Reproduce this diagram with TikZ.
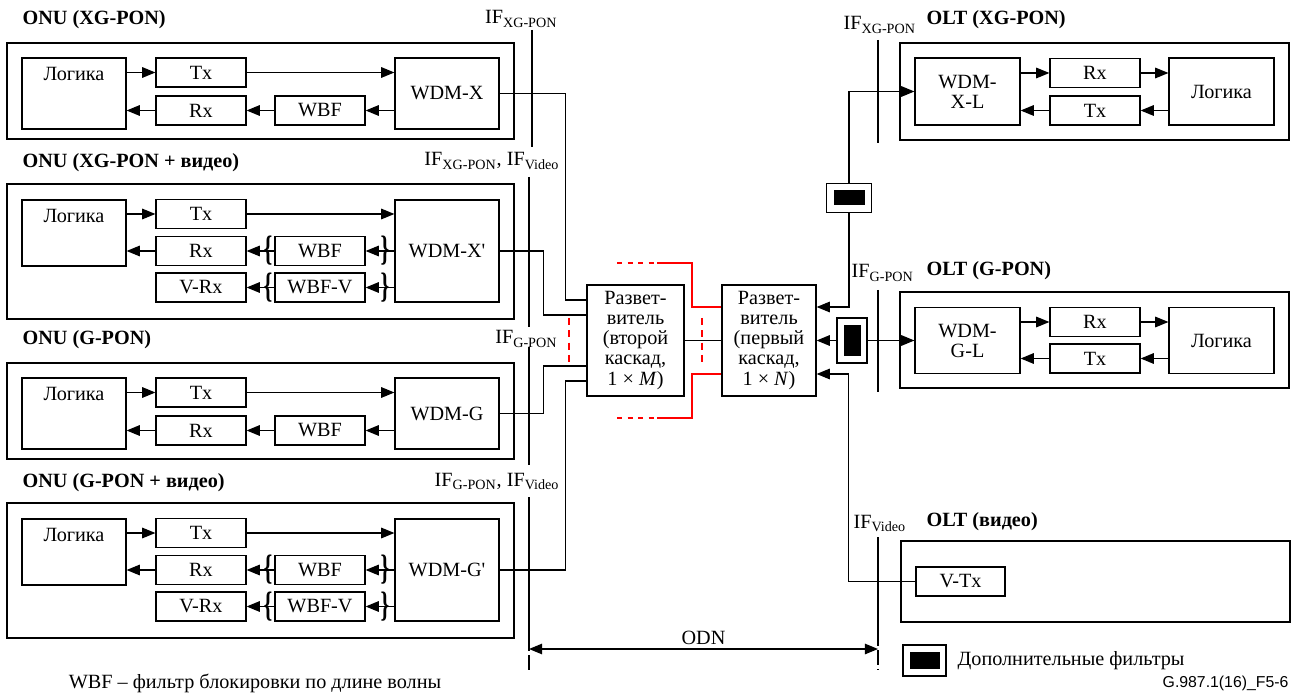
\documentclass[tikz,border=0pt]{standalone}
\usepackage{fontspec}
\setmainfont{Liberation Serif}
\newfontfamily\idfont{Liberation Sans}
\usepackage{graphicx}
\usepackage{tikz}
\usetikzlibrary{shapes,arrows.meta,positioning,calc}

\newcommand{\figfont}{\fontsize{11.5}{11.4}\selectfont}
\newcommand{\IFs}[1]{IF\textsubscript{#1}}
\newcommand{\lbr}{\scalebox{1.1}[1.75]{\bfseries\{}}
\newcommand{\rbr}{\scalebox{1.1}[1.75]{\bfseries\}}}

\tikzset{
  blk/.style={draw, rectangle, inner sep=1pt, align=center},
  sblk/.style={blk, minimum width=1.8cm, minimum height=0.58cm},
  wblk/.style={blk, minimum width=2.08cm},
  frm/.style={draw, rectangle, line width=0.85pt},
  ttl/.style={anchor=base west, inner sep=0pt, font=\figfont\bfseries},
  ifl/.style={inner sep=0pt},
  flt/.style={draw, fill=white},
  brc/.style={inner sep=0pt},
  odash/.style={dash pattern=on 8pt off 2.5pt},
  rdash/.style={red, dash pattern=on 4pt off 3pt},
}

\begin{document}
\begin{tikzpicture}[x=0.02cm, y=-0.02cm, font=\figfont, line width=0.7pt,
  >={Triangle[length=7.5pt,width=6pt]}]
  \useasboundingbox (0,0) rectangle (1293,695);

  % ONU (XG-PON)
  \node[ttl] (tonuA) at (22,25) {ONU (XG-PON)};
  \node[frm, minimum width=10.14cm, minimum height=1.92cm] (onuA) at (260.5,91) {};
  \node[wblk, minimum height=1.42cm, label={[anchor=north, yshift=-0.06cm]north:Логика}] (logA) at (74,93.5) {};
  \node[sblk] (txA) at (201,72.5) {Tx};
  \node[sblk] (rxA) at (201,110.5) {Rx};
  \node[sblk] (wbfA) at (320,110.5) {WBF};
  \node[wblk, minimum height=1.42cm] (wdmA) at (447,93.5) {WDM-X};
  \draw[->] (txA.west -| logA.east) -- (txA.west);
  \draw[->] (txA.east) -- (txA.east -| wdmA.west);
  \draw[->] (wbfA.east -| wdmA.west) -- (wbfA.east);
  \draw[->] (wbfA.west) -- (rxA.east);
  \draw[->] (rxA.west) -- (rxA.west -| logA.east);

  % ONU (XG-PON + video)
  \node[ttl] (tonuB) at (22,168) {ONU (XG-PON + видео)};
  \node[frm, minimum width=10.14cm, minimum height=2.7cm] (onuB) at (260.5,251.5) {};
  \node[wblk, minimum height=1.32cm, label={[anchor=north, yshift=-0.06cm]north:Логика}] (logB) at (74,233) {};
  \node[sblk] (txB) at (201,214) {Tx};
  \node[sblk] (rxB) at (201,251) {Rx};
  \node[sblk] (vrxB) at (201,287.5) {V-Rx};
  \node[sblk] (wbfB) at (320,251) {WBF};
  \node[sblk] (wbfvB) at (320,287.5) {WBF-V};
  \node[wblk, minimum height=2.04cm] (wdmB) at (447,251) {WDM-X\textquotesingle};
  \draw[->] (txB.west -| logB.east) -- (txB.west);
  \draw[->] (txB.east) -- (txB.east -| wdmB.west);
  \draw[->] (wbfB.east -| wdmB.west) -- (wbfB.east);
  \draw[->] (wbfB.west) -- (rxB.east);
  \draw[->] (rxB.west) -- (rxB.west -| logB.east);
  \draw[->] (wbfvB.east -| wdmB.west) -- (wbfvB.east);
  \draw[->] (wbfvB.west) -- (vrxB.east);
  \node[brc] (bB1) at (268,251) {\lbr};
  \node[brc] (bB2) at (268,287.5) {\lbr};
  \node[brc] (bB3) at (385,251) {\rbr};
  \node[brc] (bB4) at (385,287.5) {\rbr};

  % ONU (G-PON)
  \node[ttl] (tonuC) at (22,345) {ONU (G-PON)};
  \node[frm, minimum width=10.14cm, minimum height=1.92cm] (onuC) at (260.5,411) {};
  \node[wblk, minimum height=1.42cm, label={[anchor=north, yshift=-0.06cm]north:Логика}] (logC) at (74,413.5) {};
  \node[sblk] (txC) at (201,392.5) {Tx};
  \node[sblk] (rxC) at (201,430.5) {Rx};
  \node[sblk] (wbfC) at (320,430.5) {WBF};
  \node[wblk, minimum height=1.42cm] (wdmC) at (447,413.5) {WDM-G};
  \draw[->] (txC.west -| logC.east) -- (txC.west);
  \draw[->] (txC.east) -- (txC.east -| wdmC.west);
  \draw[->] (wbfC.east -| wdmC.west) -- (wbfC.east);
  \draw[->] (wbfC.west) -- (rxC.east);
  \draw[->] (rxC.west) -- (rxC.west -| logC.east);

  % ONU (G-PON + video)
  \node[ttl] (tonuD) at (22,487) {ONU (G-PON + видео)};
  \node[frm, minimum width=10.14cm, minimum height=2.7cm] (onuD) at (260.5,570.5) {};
  \node[wblk, minimum height=1.32cm, label={[anchor=north, yshift=-0.06cm]north:Логика}] (logD) at (74,552) {};
  \node[sblk] (txD) at (201,533) {Tx};
  \node[sblk] (rxD) at (201,570) {Rx};
  \node[sblk] (vrxD) at (201,606.5) {V-Rx};
  \node[sblk] (wbfD) at (320,570) {WBF};
  \node[sblk] (wbfvD) at (320,606.5) {WBF-V};
  \node[wblk, minimum height=2.04cm] (wdmD) at (447,570) {WDM-G\textquotesingle};
  \draw[->] (txD.west -| logD.east) -- (txD.west);
  \draw[->] (txD.east) -- (txD.east -| wdmD.west);
  \draw[->] (wbfD.east -| wdmD.west) -- (wbfD.east);
  \draw[->] (wbfD.west) -- (rxD.east);
  \draw[->] (rxD.west) -- (rxD.west -| logD.east);
  \draw[->] (wbfvD.east -| wdmD.west) -- (wbfvD.east);
  \draw[->] (wbfvD.west) -- (vrxD.east);
  \node[brc] (bD1) at (268,570) {\lbr};
  \node[brc] (bD2) at (268,606.5) {\lbr};
  \node[brc] (bD3) at (385,570) {\rbr};
  \node[brc] (bD4) at (385,606.5) {\rbr};

  % interfaces on the ONU side
  \node[ifl, anchor=base east] (ifA) at (558,24) {\IFs{XG-PON}};
  \draw (532,30) -- (532,147);
  \node[ifl, anchor=base east] (ifB) at (560,166) {\IFs{XG-PON}, \IFs{Video}};
  \draw (529,177) -- (529,327);
  \node[ifl, anchor=base east] (ifC) at (558,344) {\IFs{G-PON}};
  \draw (529,347) -- (529,465);
  \node[ifl, anchor=base east] (ifD) at (560,486) {\IFs{G-PON}, \IFs{Video}};
  \draw (529,497) -- (529,637);
  \draw[odash] (529,637) -- (529,673);

  % splitters
  \node[blk, minimum width=1.94cm, minimum height=2.22cm] (splB) at (635.5,340.5) {Развет-\\витель\\(второй\\каскад,\\1 × \textit{M})};
  \node[blk, minimum width=1.88cm, minimum height=2.22cm] (splA) at (769,340.5) {Развет-\\витель\\(первый\\каскад,\\1 × \textit{N})};
  \draw (splB.east) -- (splA.west);

  \draw (wdmA.east) -- ++(66,0) |- ([yshift=0.81cm]splB.west);
  \draw (wdmB.east) -- ++(44,0) |- ([yshift=0.51cm]splB.west);
  \draw (wdmC.east) -- ++(44,0) |- ([yshift=-0.51cm]splB.west);
  \draw (wdmD.east) -- ++(66,0) |- ([yshift=-0.81cm]splB.west);

  % further splitter ports (red)
  \coordinate (rtop) at (617,263);
  \coordinate (rbot) at (617,418);
  \draw[red, dashed] (rtop) -- ++(40,0) coordinate (rtopk);
  \draw[red] (rtopk) -- ++(35,0) |- ([yshift=0.67cm]splA.west);
  \draw[red, dashed] (rbot) -- ++(40,0) coordinate (rbotk);
  \draw[red] (rbotk) -- ++(35,0) |- ([yshift=-0.67cm]splA.west);
  \draw[rdash] (569,318) -- (569,362);
  \draw[rdash] (702,318) -- (702,362);

  % OLT (XG-PON)
  \node[ttl] (toltA) at (926,25) {OLT (XG-PON)};
  \node[frm, minimum width=7.78cm, minimum height=1.94cm] (oltA) at (1094.5,91.5) {};
  \node[wblk, minimum width=2.1cm, minimum height=1.34cm] (wdmXL) at (967.5,91.5) {WDM-\\X-L};
  \node[sblk] (rxXL) at (1095,73) {Rx};
  \node[sblk] (txXL) at (1095,110.5) {Tx};
  \node[wblk, minimum width=2.1cm, minimum height=1.34cm] (logXL) at (1221.5,91.5) {Логика};
  \draw[->] (rxXL.west -| wdmXL.east) -- (rxXL.west);
  \draw[->] (rxXL.east) -- (rxXL.east -| logXL.west);
  \draw[->] (txXL.east -| logXL.west) -- (txXL.east);
  \draw[->] (txXL.west) -- (txXL.west -| wdmXL.east);

  % OLT (G-PON)
  \node[ttl] (toltB) at (926,276) {OLT (G-PON)};
  \node[frm, minimum width=7.78cm, minimum height=1.92cm] (oltB) at (1094.5,340) {};
  \node[wblk, minimum width=2.1cm, minimum height=1.32cm] (wdmGL) at (967.5,340.5) {WDM-\\G-L};
  \node[sblk] (rxGL) at (1095,322) {Rx};
  \node[sblk] (txGL) at (1095,358.5) {Tx};
  \node[wblk, minimum width=2.1cm, minimum height=1.32cm] (logGL) at (1221.5,340.5) {Логика};
  \draw[->] (rxGL.west -| wdmGL.east) -- (rxGL.west);
  \draw[->] (rxGL.east) -- (rxGL.east -| logGL.west);
  \draw[->] (txGL.east -| logGL.west) -- (txGL.east);
  \draw[->] (txGL.west) -- (txGL.west -| wdmGL.east);

  % OLT (video)
  \node[ttl] (toltC) at (926,526) {OLT (видео)};
  \node[frm, minimum width=7.78cm, minimum height=1.62cm] (oltC) at (1095.5,581.5) {};
  \node[sblk, minimum width=1.78cm] (vtx) at (960.5,581.5) {V-Tx};

  % OLT side links and filters
  \node[flt, minimum width=0.9cm, minimum height=0.58cm] (fltA) at (849,198) {};
  \fill ([shift={(-0.31cm,-0.15cm)}]fltA.center) rectangle ([shift={(0.31cm,0.15cm)}]fltA.center);
  \draw[->] (fltA.south) |- ([yshift=0.67cm]splA.east);
  \draw[->] (fltA.north) |- (wdmXL.west);

  \node[flt, minimum width=0.6cm, minimum height=0.9cm] (fltB) at (852,340.5) {};
  \fill ([shift={(-0.17cm,-0.31cm)}]fltB.center) rectangle ([shift={(0.17cm,0.31cm)}]fltB.center);
  \draw[->] (fltB.west) -- (splA.east);
  \draw[->] (fltB.east) -- (wdmGL.west);

  \draw[->] (vtx.west) -- ++(-67,0) |- ([yshift=-0.67cm]splA.east);

  % interfaces on the OLT side
  \node[ifl, anchor=base west] (ifE) at (843,30) {\IFs{XG-PON}};
  \draw (878,40) -- (878,143);
  \node[ifl, anchor=base west] (ifF) at (851,278) {\IFs{G-PON}};
  \draw (878,290) -- (878,392);
  \node[ifl, anchor=base west] (ifG) at (853,528) {\IFs{Video}};
  \draw (878,537) -- (878,632);
  \draw[odash] (878,632) -- (878,670);

  % ODN
  \coordinate (odnL) at (529,649);
  \coordinate (odnR) at (878,649);
  \draw[<->] (odnL) -- node[above, inner sep=2pt] (odn) {ODN} (odnR);

  % legend and notes
  \node[flt, minimum width=0.86cm, minimum height=0.62cm] (fltL) at (924.5,660.5) {};
  \fill ([shift={(-0.3cm,-0.17cm)}]fltL.center) rectangle ([shift={(0.3cm,0.17cm)}]fltL.center);
  \node[anchor=west, inner sep=0pt] (legtxt) at (957,661) {Дополнительные фильтры};
  \node (capt) at (255,683) {WBF – фильтр блокировки по длине волны};
  \node[anchor=east, inner sep=0pt, font=\idfont\fontsize{9}{10}\selectfont] (figid) at (1289,683) {G.987.1(16)\_F5-6};
\end{tikzpicture}
\end{document}
